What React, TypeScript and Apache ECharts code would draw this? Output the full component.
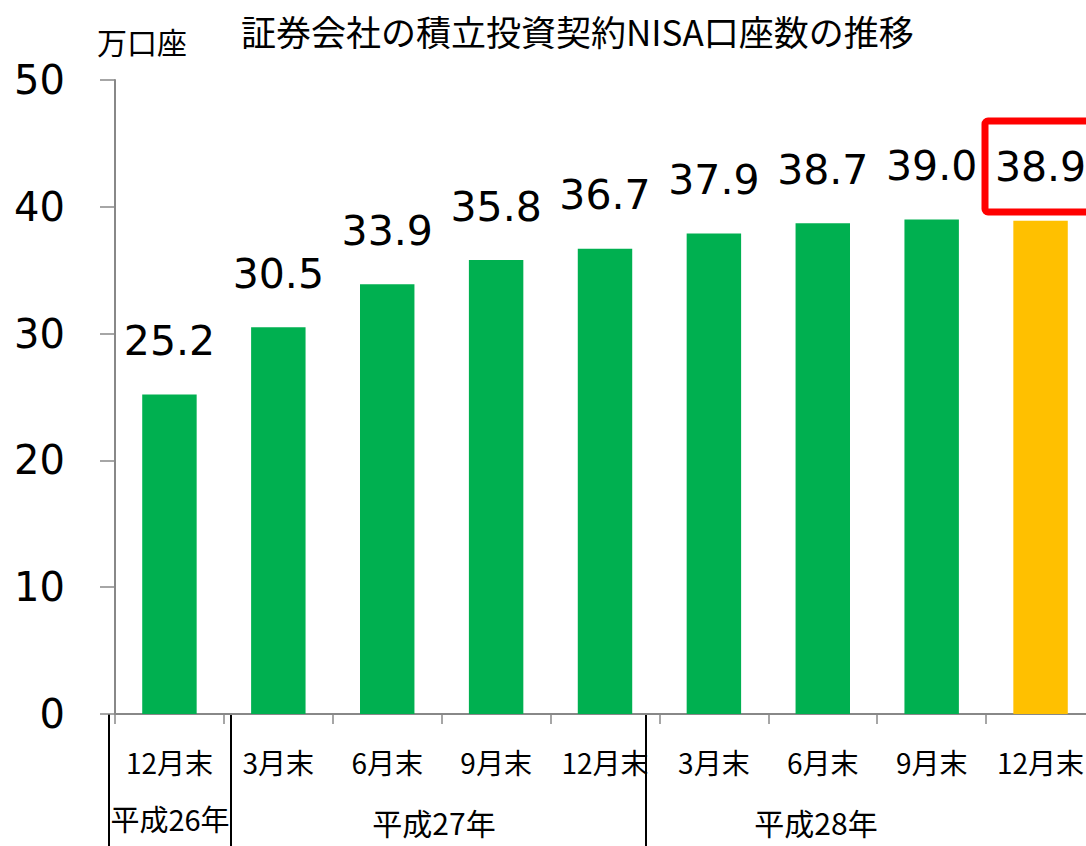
import React, { useEffect, useRef } from "react";
import * as echarts from "echarts";

const categories = ["12月末", "3月末", "6月末", "9月末", "12月末", "3月末", "6月末", "9月末", "12月末"];
const values = [25.2, 30.5, 33.9, 35.8, 36.7, 37.9, 38.7, 39.0, 38.9];
const yearLabels = ["平成26年", "平成27年", "平成28年"];
const titleText = "証券会社の積立投資契約NISA口座数の推移";
const unitText = "万口座";

const GREEN = "#00B050";
const ORANGE = "#FFC000";
const CJK = "'Noto Sans CJK JP', sans-serif";
const NUM = "'DejaVu Sans', sans-serif";

export default function App() {
  const ref = useRef<HTMLDivElement>(null);
  useEffect(() => {
    if (!ref.current) return;
    const chart = echarts.init(ref.current, null, { renderer: "svg" });
    const yearX = [170, 434, 816];
    const yearY = [818, 822, 822];
    const yearSize = [29, 30, 30];
    const sepX = [109, 231, 646];
    chart.setOption({
      animation: false,
      backgroundColor: "#ffffff",
      title: {
        text: titleText,
        left: 236,
        top: 8,
        textStyle: { fontFamily: CJK, fontSize: 35, fontWeight: "normal", color: "#000" },
      },
      grid: { left: 115, right: 0, top: 80, bottom: 132, containLabel: false },
      xAxis: {
        type: "category",
        data: categories,
        boundaryGap: true,
        axisLine: { show: true, lineStyle: { color: "#888", width: 2 } },
        axisTick: { show: true, length: 10, alignWithLabel: false, lineStyle: { color: "#888", width: 1.5 } },
        axisLabel: { interval: 0, margin: 34, fontFamily: CJK, fontSize: 28, color: "#000" },
      },
      yAxis: {
        type: "value",
        min: 0,
        max: 50,
        interval: 10,
        splitLine: { show: false },
        axisLine: { show: true, lineStyle: { color: "#888", width: 2 } },
        axisTick: { show: true, length: 15, lineStyle: { color: "#888", width: 1.5 } },
        axisLabel: { margin: 50, fontFamily: NUM, fontSize: 40, color: "#000" },
      },
      series: [
        {
          type: "bar",
          data: values,
          barWidth: "50%",
          itemStyle: {
            color: (p: any) => (p.dataIndex === values.length - 1 ? ORANGE : GREEN),
          },
          label: {
            show: true,
            position: "top",
            distance: 33,
            fontFamily: NUM,
            fontSize: 41,
            color: "#000",
            formatter: (p: any) => Number(p.value).toFixed(1),
          },
        },
      ],
      graphic: [
        {
          type: "text",
          left: 97,
          top: 26,
          style: { text: unitText, font: `30px ${CJK}`, fill: "#000" },
        },
        ...yearLabels.map((t, i) => ({
          type: "text",
          x: yearX[i],
          y: yearY[i],
          style: {
            text: t,
            font: `${yearSize[i]}px ${CJK}`,
            lineHeight: yearSize[i],
            fill: "#000",
            align: "center",
            verticalAlign: "middle",
          },
        })),
        ...sepX.map((x) => ({
          type: "line",
          shape: { x1: x, y1: 714, x2: x, y2: 846 },
          style: { stroke: "#000", lineWidth: 2 },
        })),
        {
          type: "rect",
          shape: { x: 985, y: 121, width: 120, height: 91, r: 3 },
          style: { fill: "none", stroke: "#FF0000", lineWidth: 7 },
          z: 100,
        },
      ],
    });
    return () => chart.dispose();
  }, []);
  return (
    <div style={{ position: "absolute", left: 0, top: 0, width: 1086, height: 846, overflow: "hidden" }}>
      <div ref={ref} style={{ width: 1095, height: 846 }} />
    </div>
  );
}
